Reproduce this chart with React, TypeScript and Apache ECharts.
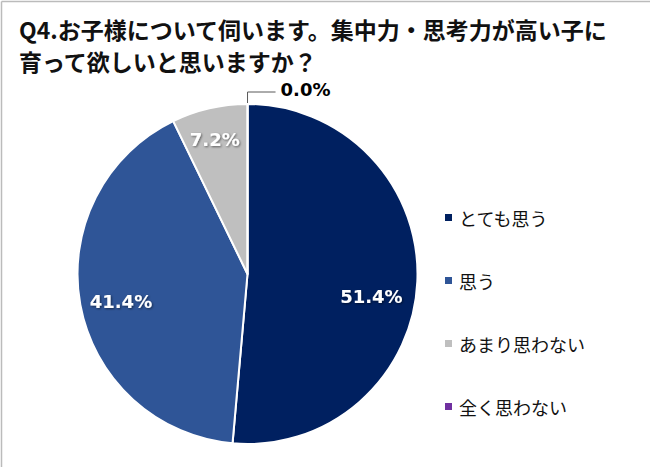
import React, { useEffect, useRef } from "react";
import * as echarts from "echarts";

const titleLines = ["Q4.お子様について伺います。集中力・思考力が高い子に", "育って欲しいと思いますか？"];
const categories = ["とても思う", "思う", "あまり思わない", "全く思わない"];
const values = [51.4, 41.4, 7.2, 0.0];
const colors = ["#002060", "#2F5597", "#BFBFBF", "#7030A0"];
const labelShifts = [
  [36, 19],
  [-40, 12],
  [-13, -49],
  [0, -3],
];

export default function App() {
  const ref = useRef<HTMLDivElement>(null);
  useEffect(() => {
    if (!ref.current) return;
    const chart = echarts.init(ref.current, null, { renderer: "svg" });
    const data = categories.map((name, i) => {
      const isZero = values[i] === 0;
      return {
        name,
        value: values[i],
        itemStyle: { color: colors[i] },
        label: isZero
          ? {
              position: "outside",
              color: "#000",
              textShadowColor: "transparent",
              textShadowBlur: 0,
              textShadowOffsetX: 0,
              textShadowOffsetY: 0,
            }
          : { position: "inside" },
        labelLine: isZero
          ? { show: true, length: 12, length2: 28, lineStyle: { color: "#595959", width: 1 } }
          : { show: false },
      };
    });
    chart.setOption({
      animation: false,
      backgroundColor: "#fff",
      title: {
        text: titleLines.join("\n"),
        left: 14,
        top: 8,
        textStyle: {
          fontFamily: "Noto Sans CJK JP",
          fontSize: 23,
          fontWeight: "bold",
          color: "#111",
          lineHeight: 32,
        },
      },
      legend: {
        orient: "vertical",
        left: 438,
        top: 202,
        itemWidth: 9,
        itemHeight: 9,
        itemGap: 42,
        icon: "rect",
        textStyle: {
          fontFamily: "Noto Sans CJK JP",
          fontSize: 18,
          color: "#111",
          lineHeight: 21,
          padding: [0, 0, 0, 1],
        },
        data: categories,
      },
      graphic: [
        {
          type: "line",
          shape: { x1: 1.5, y1: 467, x2: 1.5, y2: 1.5 },
          style: { stroke: "#BBBBBB", lineWidth: 1.5 },
        },
        {
          type: "line",
          shape: { x1: 1.5, y1: 1.5, x2: 650, y2: 1.5 },
          style: { stroke: "#BBBBBB", lineWidth: 1.5 },
        },
      ],
      series: [
        {
          type: "pie",
          center: [247.5, 274],
          radius: 170,
          startAngle: 89.99,
          clockwise: true,
          avoidLabelOverlap: false,
          itemStyle: { borderColor: "#fff", borderWidth: 2 },
          label: {
            show: true,
            fontFamily: "DejaVu Sans",
            fontWeight: "bold",
            fontSize: 18,
            color: "#fff",
            textShadowColor: "rgba(0,0,0,0.5)",
            textShadowBlur: 2,
            textShadowOffsetX: 1,
            textShadowOffsetY: 1,
            formatter: (p: any) => p.value.toFixed(1) + "%",
          },
          labelLayout: (p: any) => ({ dx: labelShifts[p.dataIndex][0], dy: labelShifts[p.dataIndex][1] }),
          emphasis: { disabled: true },
          data,
        },
      ],
    });
    return () => chart.dispose();
  }, []);
  return <div ref={ref} style={{ position: "fixed", left: 0, top: 0, width: 650, height: 467 }} />;
}
